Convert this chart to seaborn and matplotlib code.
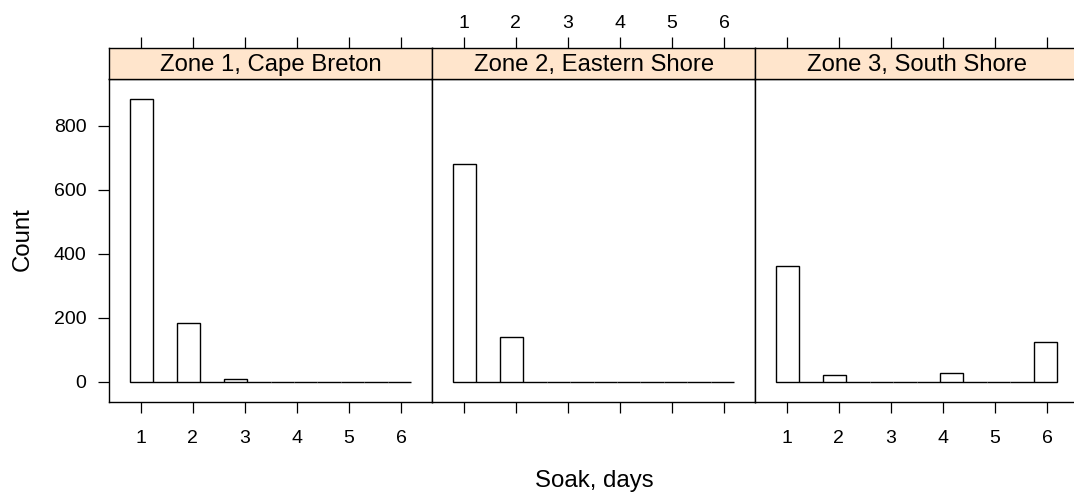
import numpy as np
import pandas as pd
import matplotlib
matplotlib.use("Agg")
import matplotlib.pyplot as plt
import seaborn as sns

# Catch counts by soak time (days), one panel per zone
zones = ["Zone 1, Cape Breton", "Zone 2, Eastern Shore", "Zone 3, South Shore"]
soak_days = [1, 2, 3, 4, 5, 6]
zone1_counts = [884, 183, 9, 0, 0, 0]
zone2_counts = [680, 140, 0, 0, 0, 0]
zone3_counts = [361, 20, 0, 29, 0, 126]

# Histogram break points used for the bars
bin_breaks = [0.795, 1.245, 1.695, 2.145, 2.595, 3.045, 3.495,
              3.945, 4.395, 4.845, 5.295, 5.745, 6.195]
x_ticks = [1, 2, 3, 4, 5, 6]
y_ticks = [0, 200, 400, 600, 800]

df = pd.DataFrame({
    "zone": np.repeat(zones, len(soak_days)),
    "soak": soak_days * len(zones),
    "count": zone1_counts + zone2_counts + zone3_counts,
})

sns.set_theme(style="white")
plt.rcParams["font.family"] = ["Liberation Sans", "DejaVu Sans"]
plt.rcParams["axes.linewidth"] = 1.0

W, H = 1074, 493
fig = plt.figure(figsize=(W / 100, H / 100), dpi=100)

panel_w = 323.0
panel_lefts = [109.3, 432.3, 755.3]
panel_top, panel_bot = 79.0, 401.7
strip_top = 48.3

ymax = df["count"].max()
ylim = (-0.07 * ymax, 1.07 * ymax)
xlim = (0.4, 6.6)

tick_len = 7.9
tick_fs = 14
strip_fs = 17.2
label_fs = 17.3

for i, (zone, left) in enumerate(zip(zones, panel_lefts)):
    ax = fig.add_axes([left / W, (H - panel_bot) / H, panel_w / W,
                       (panel_bot - panel_top) / H])
    sns.histplot(data=df[df["zone"] == zone], x="soak", weights="count",
                 bins=bin_breaks, stat="count", color="white", alpha=1,
                 edgecolor="black", linewidth=1.0, ax=ax)
    ax.set_xlim(*xlim)
    ax.set_ylim(*ylim)
    ax.set_xlabel("")
    ax.set_ylabel("")
    ax.set_facecolor("white")
    for sp in ax.spines.values():
        sp.set_visible(True)
        sp.set_color("black")
        sp.set_linewidth(1.0)

    ax.set_xticks(x_ticks)
    ax.set_yticks(y_ticks)
    ax.tick_params(axis="x", which="both", direction="out", length=tick_len,
                   width=0.9, color="black", bottom=True, top=False,
                   labelbottom=(i != 1), labelsize=tick_fs, pad=12.5,
                   labelcolor="black")
    ax.tick_params(axis="y", which="both", direction="out", length=tick_len,
                   width=0.9, color="black", left=(i == 0), right=(i == 2),
                   labelleft=(i == 0), labelright=False, labelsize=tick_fs,
                   pad=8.5, labelcolor="black")

    # Strip with the zone name and the top axis ticks
    sax = fig.add_axes([left / W, (H - panel_top) / H, panel_w / W,
                        (panel_top - strip_top) / H])
    sax.set_facecolor("#FFE5CC")
    sax.set_xlim(*xlim)
    sax.set_ylim(0, 1)
    sax.set_yticks([])
    sax.set_xticks(x_ticks)
    sax.tick_params(axis="x", direction="out", length=tick_len, width=0.9,
                    color="black", bottom=False, top=True, labelbottom=False,
                    labeltop=(i == 1), labelsize=tick_fs, pad=3.5,
                    labelcolor="black")
    for sp in sax.spines.values():
        sp.set_visible(True)
        sp.set_color("black")
        sp.set_linewidth(1.0)
    sax.text(0.5, 0.45, zone, transform=sax.transAxes, ha="center",
             va="center", fontsize=strip_fs, color="black")

fig.text(22.7 / W, 1 - 239 / H, "Count", rotation=90, ha="center",
         va="center", fontsize=label_fs, color="black")
fig.text(594.5 / W, 1 - 486.7 / H, "Soak, days", ha="center",
         va="baseline", fontsize=label_fs, color="black")

fig.savefig("out.png", dpi=100, facecolor="white")
